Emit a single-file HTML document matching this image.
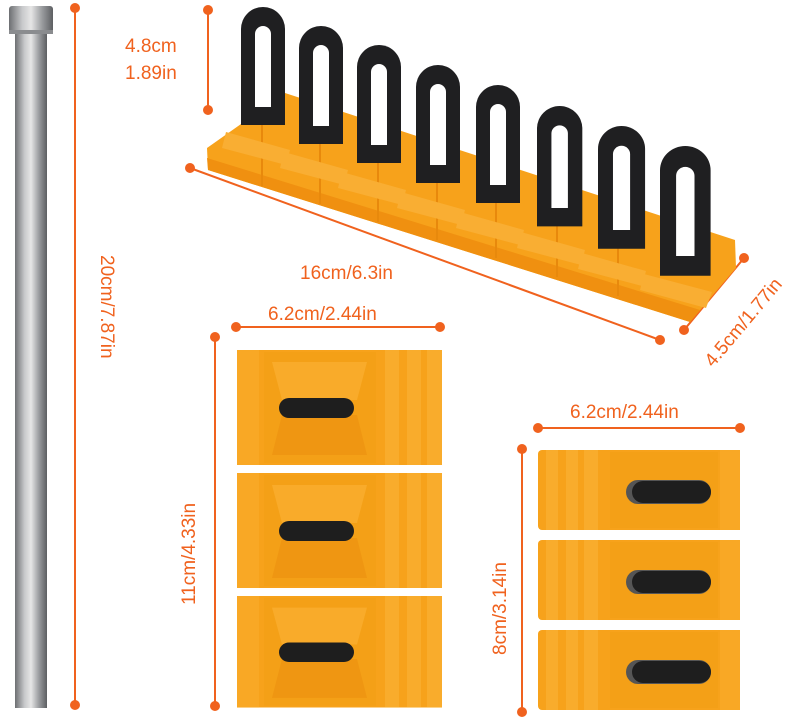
<!DOCTYPE html>
<html><head><meta charset="utf-8"><style>
html,body{margin:0;padding:0;background:#fff;}
svg{display:block}
text{font-family:"Liberation Sans",sans-serif;fill:#f0621e;font-size:19px;}
</style></head><body>
<svg width="795" height="718" viewBox="0 0 795 718" xmlns="http://www.w3.org/2000/svg">
<defs>
<linearGradient id="steel" x1="0" x2="1" y1="0" y2="0">
<stop offset="0" stop-color="#6d6f72"/><stop offset="0.3" stop-color="#c8c9cb"/><stop offset="0.5" stop-color="#e6e6e6"/><stop offset="0.75" stop-color="#9a9c9f"/><stop offset="1" stop-color="#5d5f62"/>
</linearGradient>
<g id="blk">
<rect x="0" y="0" width="205" height="115" rx="4" fill="#f7a21b"/>
<rect x="0" y="0" width="22" height="115" fill="#f9a825"/>
<rect x="27" y="2" width="112" height="111" fill="#f4a017"/>
<polygon points="35,12 130,12 120,50 45,50" fill="#f9ab2a"/>
<polygon points="45,65 120,65 130,105 35,105" fill="#ef9612"/>
<rect x="148" y="0" width="14" height="115" fill="#f9ac2c"/>
<rect x="170" y="0" width="14" height="115" fill="#f9ac2c"/>
<rect x="190" y="0" width="15" height="115" fill="#f9ac2c"/>
<rect x="42" y="48" width="75" height="20" rx="10" fill="#1e1e1e"/>
</g>
<g id="blk2">
<rect x="0" y="0" width="202" height="80" rx="4" fill="#f7a21b"/>
<rect x="8" y="0" width="12" height="80" fill="#f9ac2c"/>
<rect x="28" y="0" width="12" height="80" fill="#f9ac2c"/>
<rect x="46" y="0" width="14" height="80" fill="#f9ac2c"/>
<rect x="72" y="2" width="108" height="76" fill="#f4a017"/>
<rect x="182" y="0" width="20" height="80" fill="#f9a825"/>
<rect x="88" y="30" width="85" height="24" rx="12" fill="#555"/>
<rect x="94" y="31" width="79" height="22" rx="11" fill="#1e1e1e"/>
</g>
<g id="loop">
<path d="M0,118 L0,22 A22,22 0 0 1 44,22 L44,118 Z" fill="#1f1f21"/>
<path d="M14,100 L14,27 A8,8 0 0 1 30,27 L30,100 Z" fill="#fff"/>
</g>
</defs>

<!-- rod -->
<rect x="15" y="30" width="32" height="678" fill="url(#steel)"/>
<rect x="9" y="6" width="44" height="28" rx="3" fill="url(#steel)"/>
<rect x="9" y="30" width="44" height="4" fill="#8a8c8f"/>

<!-- dimension lines -->
<g stroke="#f0621e" stroke-width="2" fill="#f0621e">
<line x1="75" y1="8" x2="75" y2="705"/><circle cx="75" cy="8" r="4"/><circle cx="75" cy="705" r="4"/>
<line x1="208" y1="10" x2="208" y2="110"/><circle cx="208" cy="10" r="4"/><circle cx="208" cy="110" r="4"/>
<line x1="190" y1="168" x2="660" y2="340"/><circle cx="190" cy="168" r="4"/><circle cx="660" cy="340" r="4"/>
<line x1="744" y1="258" x2="684" y2="330"/><circle cx="744" cy="258" r="4"/><circle cx="684" cy="330" r="4"/>
<line x1="236" y1="327" x2="440" y2="327"/><circle cx="236" cy="327" r="4"/><circle cx="440" cy="327" r="4"/>
<line x1="215" y1="337" x2="215" y2="706"/><circle cx="215" cy="337" r="4"/><circle cx="215" cy="706" r="4"/>
<line x1="538" y1="428" x2="740" y2="428"/><circle cx="538" cy="428" r="4"/><circle cx="740" cy="428" r="4"/>
<line x1="522" y1="449" x2="522" y2="712"/><circle cx="522" cy="449" r="4"/><circle cx="522" cy="712" r="4"/>
</g>

<!-- labels -->
<text x="125" y="52">4.8cm</text>
<text x="125" y="79">1.89in</text>
<text x="300" y="279">16cm/6.3in</text>
<text x="268" y="320">6.2cm/2.44in</text>
<text x="570" y="418">6.2cm/2.44in</text>
<text transform="translate(101,255) rotate(90)">20cm/7.87in</text>
<text transform="translate(195,605) rotate(-90)">11cm/4.33in</text>
<text transform="translate(506,655) rotate(-90)">8cm/3.14in</text>
<text transform="translate(713,368) rotate(-50)">4.5cm/1.77in</text>

<!-- rack base -->
<polygon points="285,93 735,240 736,268 690,322 208,170 207,148" fill="#f7a21b"/>
<polygon points="207,158 700,310 690,322 208,170" fill="#f09010"/>
<g stroke="#e8890c" stroke-width="2">
<line x1="262" y1="115" x2="262" y2="186"/>
<line x1="320" y1="135" x2="320" y2="204"/>
<line x1="378" y1="155" x2="378" y2="222"/>
<line x1="437" y1="175" x2="437" y2="240"/>
<line x1="496" y1="195" x2="496" y2="258"/>
<line x1="557" y1="215" x2="557" y2="277"/>
<line x1="618" y1="236" x2="618" y2="296"/>
</g>
<g fill="#f9ae33">
<polygon points="226,132 290,150 286,165 222,148"/>
<polygon points="284,152 348,170 344,185 280,168"/>
<polygon points="342,172 406,190 402,205 338,188"/>
<polygon points="401,192 465,210 461,225 397,208"/>
<polygon points="460,212 524,230 520,245 456,228"/>
<polygon points="521,232 585,250 581,265 517,248"/>
<polygon points="582,253 646,271 642,286 578,269"/>
<polygon points="644,274 712,292 706,308 640,290"/>
</g>

<!-- loops -->
<use href="#loop" transform="translate(241,7)"/>
<use href="#loop" transform="translate(299,26)"/>
<use href="#loop" transform="translate(357,45)"/>
<use href="#loop" transform="translate(416,65)"/>
<use href="#loop" transform="translate(476,85)"/>
<use href="#loop" transform="translate(537,106) scale(1.03,1.02)"/>
<use href="#loop" transform="translate(598,126) scale(1.07,1.04)"/>
<use href="#loop" transform="translate(660,146) scale(1.15,1.1)"/>

<!-- left blocks -->
<use href="#blk" transform="translate(237,350)"/>
<use href="#blk" transform="translate(237,473)"/>
<use href="#blk" transform="translate(237,596) scale(1,0.97)"/>
<!-- right blocks -->
<use href="#blk2" transform="translate(538,450)"/>
<use href="#blk2" transform="translate(538,540)"/>
<use href="#blk2" transform="translate(538,630)"/>
</svg>
</body></html>
